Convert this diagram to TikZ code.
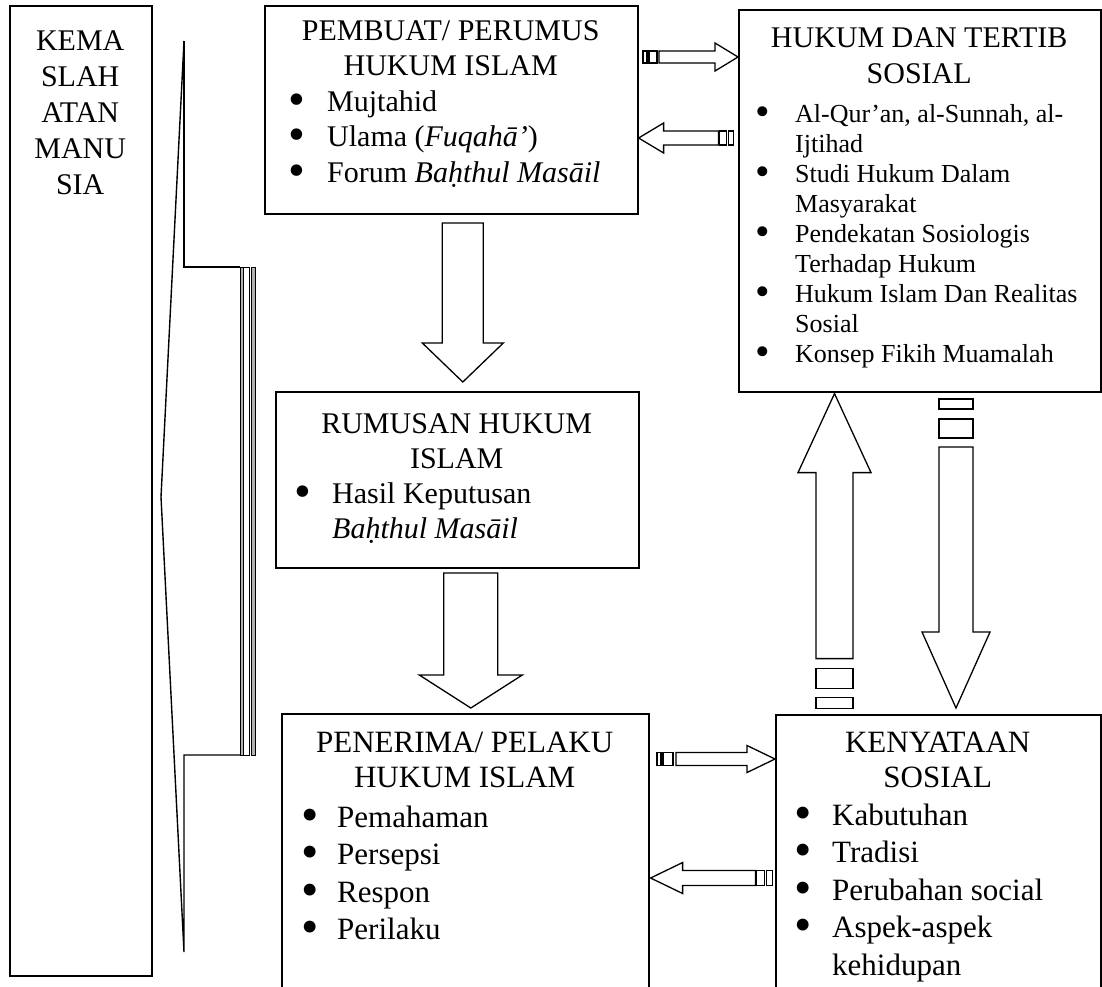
\documentclass[tikz,border=0pt]{standalone}
\usepackage{fontspec}
\setmainfont{Liberation Serif}
\usetikzlibrary{positioning,calc}

% titik besar seperti di Word
\newcommand{\titik}{\raisebox{-0.14em}{\scalebox{1.6}{\textbullet}}}
\newcommand{\lanjut}{\hfil\break}
\newcommand{\spasi}{\spaceskip=0pt\xspaceskip=0pt\relax}
% butir{pusat titik}{awal teks}{isi}
\newcommand{\butir}[3]{\par\noindent\spasi\rightskip=0pt plus 1fil\hangindent=#2\hangafter=1%
    \hspace*{#1}\makebox[0pt]{\titik}\hspace*{\dimexpr#2-#1\relax}#3\par}

\begin{document}
\begin{tikzpicture}[x=1pt, y=-1pt,
    kotak/.style = {draw, line width=1.6pt, inner sep=0, anchor=north west},
    isi/.style = {anchor=base west, inner sep=0, align=left},
    panah/.style = {draw, line width=1.3pt, fill=white, line join=miter},
    pics/blockarrow/.style args = {#1/#2/#3/#4}{code={
        \draw[panah] (0,0) -- (-#4,#3) -- (-#4,#2) -- (-#1,#2) -- (-#1,-#2) -- (-#4,-#2) -- (-#4,-#3) -- cycle;}},
    pics/strip/.style args = {#1/#2/#3}{code={
        \draw[panah] (-#1,-#3) rectangle (-#2,#3);}}]

    \useasboundingbox (0,0) rectangle (1102,986);
    \clip (0,0) rectangle (1102,986);

    % kotak
    \node[kotak, minimum width=142, minimum height=970] (kemaslahatan) at (9,5) {};
    \node[kotak, minimum width=373, minimum height=208] (pembuat) at (264,5) {};
    \node[kotak, minimum width=362, minimum height=382] (hukum) at (738,9) {};
    \node[kotak, minimum width=363, minimum height=176] (rumusan) at (275,391) {};
    \node[kotak, minimum width=367, minimum height=320] (penerima) at (281,713) {};
    \node[kotak, minimum width=325, minimum height=320] (kenyataan) at (775,714) {};

    % teks
    \node[isi, text width=142, align=center, font=\fontsize{30}{36}\selectfont] (kemaslahatanT)
        at ($(kemaslahatan.north west)+(0,45)$) {KEMA\\SLAH\\ATAN\\MANU\\SIA};

    \node[isi, text width=373, font=\fontsize{30}{35.5}\selectfont] (pembuatT)
        at ($(pembuat.north west)+(0,35)$) {%
        {\spasi\centering PEMBUAT/ PERUMUS\\HUKUM ISLAM\par}
        \butir{33pt}{63pt}{Mujtahid}
        \butir{33pt}{63pt}{Ulama (\textit{Fuqahā’})}
        \butir{33pt}{63pt}{Forum \textit{Baḥthul Masāil}}};

    \node[isi, text width=362, font=\fontsize{30}{36}\selectfont] (hukumT)
        at ($(hukum.north west)+(0,38)$) {%
        {\spasi\centering HUKUM DAN TERTIB\\SOSIAL\par}
        \vspace{9pt}\fontsize{26}{30}\selectfont
        \butir{25pt}{57pt}{Al-Qur’an, al-Sunnah, al-\lanjut Ijtihad}
        \butir{25pt}{57pt}{Studi Hukum Dalam\lanjut Masyarakat}
        \butir{25pt}{57pt}{Pendekatan Sosiologis\lanjut Terhadap Hukum}
        \butir{25pt}{57pt}{Hukum Islam Dan Realitas\lanjut Sosial}
        \butir{25pt}{57pt}{Konsep Fikih Muamalah}};

    \node[isi, text width=363, font=\fontsize{30}{35}\selectfont] (rumusanT)
        at ($(rumusan.north west)+(0,42)$) {%
        {\spasi\centering RUMUSAN HUKUM\\ISLAM\par}
        \butir{28pt}{57pt}{Hasil Keputusan\lanjut\textit{Baḥthul Masāil}}};

    \node[isi, text width=367, font=\fontsize{31}{35}\selectfont] (penerimaT)
        at ($(penerima.north west)+(0,39)$) {%
        {\spasi\centering PENERIMA/ PELAKU\\HUKUM ISLAM\par}
        \vspace{2.5pt}\fontsize{31}{37.5}\selectfont
        \butir{29pt}{56pt}{Pemahaman}
        \butir{29pt}{56pt}{Persepsi}
        \butir{29pt}{56pt}{Respon}
        \butir{29pt}{56pt}{Perilaku}};

    \node[isi, text width=325, font=\fontsize{31}{35}\selectfont] (kenyataanT)
        at ($(kenyataan.north west)+(0,38)$) {%
        {\spasi\centering KENYATAAN\\SOSIAL\par}
        \vspace{0.5pt}\fontsize{31}{37.5}\selectfont
        \butir{28pt}{57pt}{Kabutuhan}
        \butir{28pt}{57pt}{Tradisi}
        \butir{28pt}{57pt}{Perubahan social}
        \butir{28pt}{57pt}{Aspek-aspek\lanjut kehidupan}};

    % kurung kiri
    \coordinate (ujungatas) at (184,41);
    \coordinate (ujungbawah) at (184,952);
    \coordinate (ujungkiri) at (161,497);
    \draw[line width=1.4pt, line join=miter] (ujungatas) -- (ujungkiri) -- (ujungbawah) -- (184,755) -- (240,755);
    \draw[line width=1.4pt, line join=miter] (ujungatas) -- (184,267) -- (240,267);
    \draw[line width=1pt, fill=gray!60] (240,267) rectangle (243.5,755);
    \draw[line width=1pt] (243.5,267) rectangle (249,755);
    \draw[line width=1pt, fill=gray!60] (251,267) rectangle (255,755);

    % panah
    \coordinate (p1) at ($(rumusan.north)+(5.5,-9)$);
    \coordinate (p2) at ($(penerima.north)+(5.5,-5)$);
    \coordinate (p3) at ($(hukum.north west)+(0,48)$);
    \coordinate (p4) at ($(pembuat.north east)+(0,133)$);
    \coordinate (p5) at ($(kenyataan.north west)+(0,45)$);
    \coordinate (p6) at ($(penerima.north east)+(1,165)$);
    \coordinate (p7) at ($(hukum.south west)+(96.5,1)$);
    \coordinate (p8) at ($(kenyataan.north west)+(181,-6)$);

    \pic[rotate=-90] at (p1) {blockarrow=159/20.5/40.5/39};
    \pic[rotate=-90] at (p2) {blockarrow=135/27/51.5/33};

    \pic at (p3) {blockarrow=79/6/14/23};
    \pic at (p3) {strip=81/89/6};
    \pic at (p3) {strip=91/95/6};

    \pic[rotate=180] at (p4) {blockarrow=80/7/15/25};
    \pic[rotate=180] at (p4) {strip=81/88/7};
    \pic[rotate=180] at (p4) {strip=90/95/7};

    \pic at (p5) {blockarrow=99/6.5/13.5/28};
    \pic at (p5) {strip=102/112/6.5};
    \pic at (p5) {strip=114/118/6.5};

    \pic[rotate=180] at (p6) {blockarrow=105/7.5/15.5/32};
    \pic[rotate=180] at (p6) {strip=106/114/7.5};
    \pic[rotate=180] at (p6) {strip=116/122/7.5};

    \pic[rotate=90] at (p7) {blockarrow=265/18.5/36.5/79};
    \pic[rotate=90] at (p7) {strip=275/295/18.5};
    \pic[rotate=90] at (p7) {strip=304/315/18.5};

    \pic[rotate=-90] at (p8) {blockarrow=261/17/34/76};
    \pic[rotate=-90] at (p8) {strip=270/289/17};
    \pic[rotate=-90] at (p8) {strip=299/309/17};

\end{tikzpicture}
\end{document}
